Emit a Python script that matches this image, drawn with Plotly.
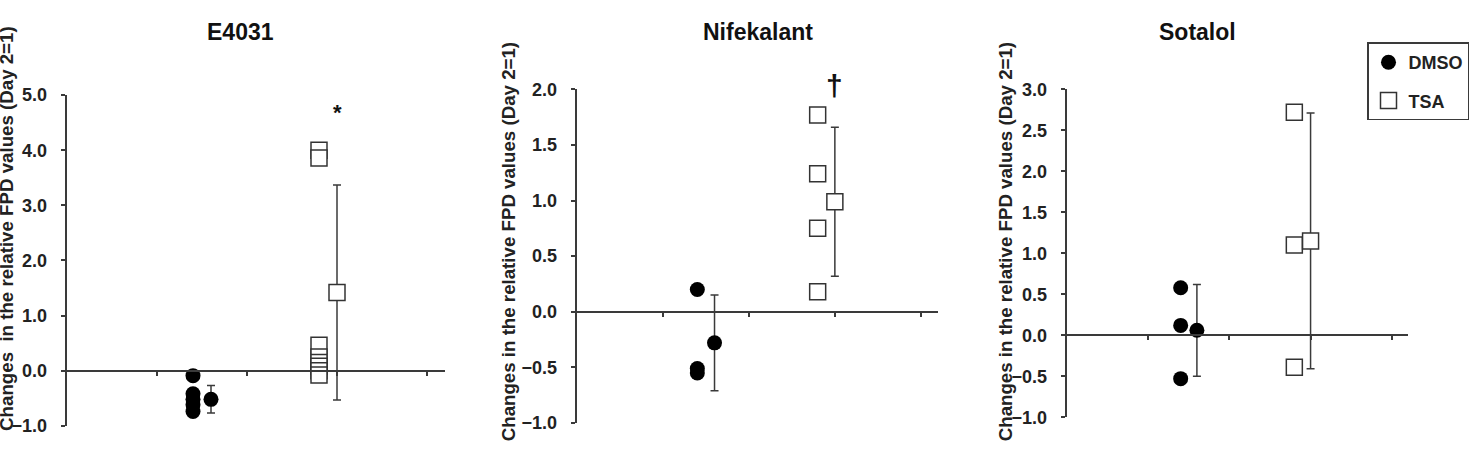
import plotly.graph_objects as go

W, H = 1476, 453

# ---------------- data ----------------
drugs = ["E4031", "Nifekalant", "Sotalol"]
groups = ["DMSO", "TSA"]

e4031_dmso = [-0.09, -0.42, -0.52, -0.62, -0.74]
e4031_tsa = [4.00, 3.86, 0.46, 0.25, 0.15, 0.08, 0.00, -0.08]
e4031_mean = [-0.52, 1.42]
e4031_sd = [0.25, 1.95]

nife_dmso = [0.20, -0.51, -0.55]
nife_tsa = [1.77, 1.24, 0.75, 0.18]
nife_mean = [-0.28, 0.99]
nife_sd = [0.43, 0.67]

sota_dmso = [0.58, 0.12, -0.53]
sota_tsa = [2.72, 1.10, -0.39]
sota_mean = [0.06, 1.15]
sota_sd = [0.56, 1.56]

y_ranges = [[-1, 5], [-1, 2], [-1, 3]]
y_ticks = [[-1, 0, 1, 2, 3, 4, 5],
           [-1, -0.5, 0, 0.5, 1, 1.5, 2],
           [-1, -0.5, 0, 0.5, 1, 1.5, 2, 2.5, 3]]
marks = ["*", "\u2020", ""]
mark_y = [4.68, 2.03, None]

ytitles = ["Changes  in the relative FPD values (Day 2=1)",
           "Changes in the relative FPD values (Day 2=1)",
           "Changes in the relative FPD values (Day 2=1)"]

# category layout on x (points column, mean column)
pts_pos = {"DMSO": 1.4, "TSA": 2.8}
mean_pos = {"DMSO": 1.6, "TSA": 3.0}

# ---------------- layout in pixels ----------------
px_x = [(67, 445), (577, 938), (1067, 1408)]
px_y = [(435, 89), (432, 83), (426, 83)]  # (bottom, top)
title_px = [240, 758, 1197]
ytitle_px = [(7, 229), (508, 243), (1005, 243)]
LABEL_GAP = 20  # extra px between y tick labels and the axis line

def fx(p):
    return p / W

def fy(p):
    return 1 - p / H

FONT = "Liberation Sans, Arial, sans-serif"
AX = "#3a3a3a"

fig = go.Figure()

data = [(e4031_dmso, e4031_tsa, e4031_mean, e4031_sd),
        (nife_dmso, nife_tsa, nife_mean, nife_sd),
        (sota_dmso, sota_tsa, sota_mean, sota_sd)]

for i, (dm, ts, mn, sd) in enumerate(data):
    xa = "x" if i == 0 else f"x{i+1}"
    ya = "y" if i == 0 else f"y{i+1}"
    ylab = f"y{i+4}"
    for gi, (g, vals) in enumerate([("DMSO", dm), ("TSA", ts)]):
        if g == "DMSO":
            mk = dict(symbol="circle", size=15, color="black",
                      line=dict(width=0))
        else:
            # white filled squares so overlapping ones show edges
            mk = dict(symbol="square", size=16, color="white",
                      line=dict(width=1.5, color="#333333"))
        fig.add_trace(go.Scatter(
            x=[pts_pos[g]] * len(vals), y=vals, mode="markers",
            marker=mk, xaxis=xa, yaxis=ya, name=g,
            showlegend=(i == 2), legendgroup=g))
        fig.add_trace(go.Scatter(
            x=[mean_pos[g]], y=[mn[gi]], mode="markers",
            marker=mk, xaxis=xa, yaxis=ya, name=g, showlegend=False,
            error_y=dict(type="data", array=[sd[gi]], visible=True,
                         color=AX, thickness=1.5, width=4)))
    # empty trace so that the label axis gets drawn
    fig.add_trace(go.Scatter(x=[None], y=[None], mode="markers",
                             xaxis=xa, yaxis=ylab, showlegend=False,
                             hoverinfo="skip"))

    # axes
    x0, x1 = px_x[i]
    yb, yt = px_y[i]
    ydom = [fy(yb), fy(yt)]
    r0, r1 = y_ranges[i]

    def to_paper(v, ydom=ydom, r0=r0, r1=r1):
        return ydom[0] + (v - r0) / (r1 - r0) * (ydom[1] - ydom[0])

    zero_pos = to_paper(0)
    xk = "xaxis" if i == 0 else f"xaxis{i+1}"
    yk = "yaxis" if i == 0 else f"yaxis{i+1}"
    yk2 = f"yaxis{i+4}"
    fig.layout[xk] = dict(domain=[fx(x0), fx(x1)], range=[0, 4.2],
                          anchor="free", position=zero_pos,
                          showline=True, linecolor=AX, linewidth=2,
                          ticks="outside", ticklen=4, tickcolor=AX,
                          tickwidth=1.5, tickvals=[1, 2, 3, 4],
                          showticklabels=False, showgrid=False,
                          zeroline=False)
    # visible axis line with short ticks
    fig.layout[yk] = dict(domain=ydom, range=[r0, r1], anchor=xa,
                          showline=True, linecolor=AX, linewidth=2,
                          ticks="outside", ticklen=4, tickcolor=AX,
                          tickwidth=1.5, tickvals=y_ticks[i],
                          showticklabels=False, showgrid=False,
                          zeroline=False)
    # label-only axis placed a little to the left
    fig.layout[yk2] = dict(overlaying=ya, range=[r0, r1], anchor="free",
                           position=fx(x0 - LABEL_GAP), side="left",
                           showline=False, ticks="",
                           tickvals=y_ticks[i], tickformat=".1f",
                           showgrid=False, zeroline=False,
                           tickfont=dict(family=FONT, size=18,
                                         color="#222222", weight="bold"))

    fig.add_annotation(text=drugs[i], xref="paper", yref="paper",
                       x=fx(title_px[i]), y=fy(23), showarrow=False,
                       xanchor="center", yanchor="middle",
                       font=dict(family=FONT, size=23, color="#111111",
                                 weight="bold"))
    fig.add_annotation(text=ytitles[i], xref="paper", yref="paper",
                       x=fx(ytitle_px[i][0]), y=fy(ytitle_px[i][1]),
                       textangle=-90, showarrow=False,
                       xanchor="center", yanchor="middle",
                       font=dict(family=FONT, size=18.7, color="#222222",
                                 weight="bold"))
    if marks[i]:
        fig.add_annotation(text=marks[i], xref=xa, yref="paper",
                           x=mean_pos["TSA"], y=to_paper(mark_y[i]),
                           showarrow=False, yanchor="middle",
                           font=dict(family=FONT,
                                     size=22 if i == 0 else 30,
                                     color="#111111", weight="bold"))

fig.update_layout(
    width=W, height=H, margin=dict(l=0, r=0, t=0, b=0),
    paper_bgcolor="white", plot_bgcolor="white",
    legend=dict(x=fx(1367), y=fy(34), xanchor="left", yanchor="top",
                bordercolor=AX, borderwidth=1.5, bgcolor="white",
                font=dict(family=FONT, size=18, color="#222222",
                          weight="bold"),
                tracegroupgap=12, itemwidth=30),
)

fig.write_html("out.html")
